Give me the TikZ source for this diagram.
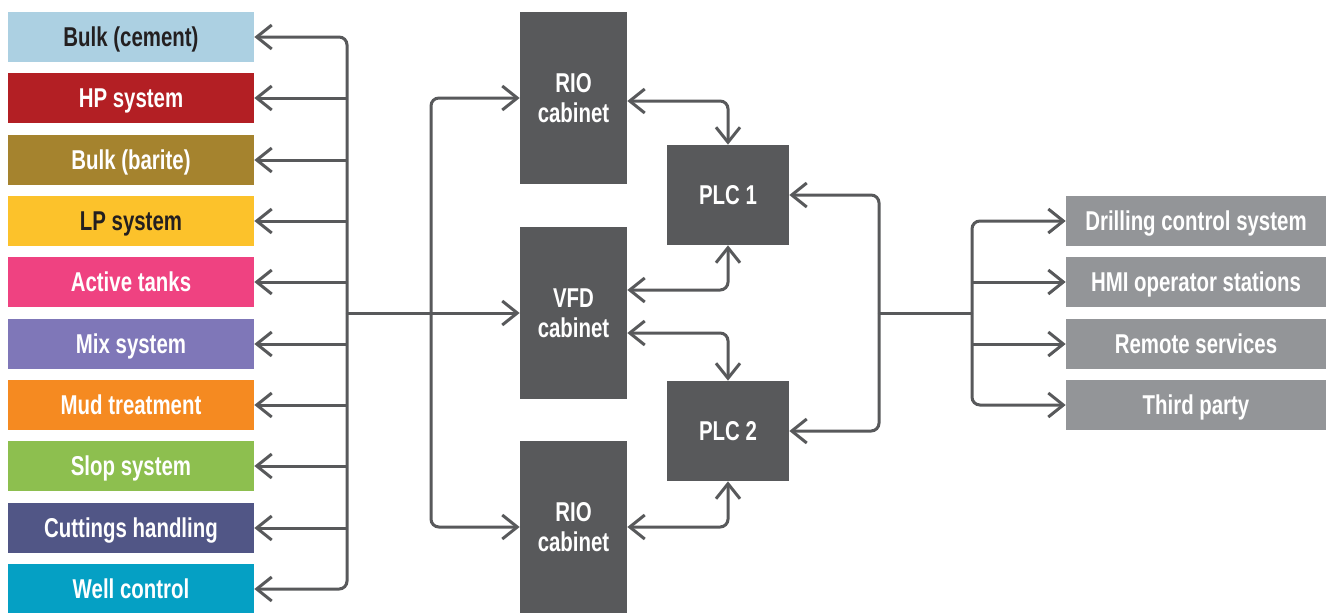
\documentclass[tikz,border=0pt]{standalone}
\usepackage{fontspec}
\setmainfont{Liberation Sans}[FakeStretch=0.75]
\usepackage{xcolor}
\usetikzlibrary{arrows.meta}

\definecolor{cement}{HTML}{ACD0E2}
\definecolor{hpred}{HTML}{B31F24}
\definecolor{barite}{HTML}{A5832E}
\definecolor{lpyel}{HTML}{FCC22B}
\definecolor{tanks}{HTML}{EF4281}
\definecolor{mixp}{HTML}{7F77B8}
\definecolor{mudor}{HTML}{F58A21}
\definecolor{slopg}{HTML}{8DBF4F}
\definecolor{cutt}{HTML}{515686}
\definecolor{wellc}{HTML}{05A0C4}
\definecolor{dark}{HTML}{58595B}
\definecolor{lgrey}{HTML}{939598}
\definecolor{txt}{HTML}{231F20}

\begin{document}
\begin{tikzpicture}[x=0.02cm, y=-0.02cm]
   \tikzstyle{sys}=[minimum width=4.92cm, minimum height=1cm, inner sep=0pt, text height=15pt, text depth=4pt, text=white, font=\fontsize{15.5}{17}\selectfont\bfseries]
   \tikzstyle{cab}=[fill=dark, minimum width=2.14cm, minimum height=3.44cm, inner sep=0pt, align=center, text=white, font=\fontsize{15.5}{17}\selectfont\bfseries]
   \tikzstyle{plc}=[fill=dark, minimum width=2.44cm, minimum height=2cm, inner sep=0pt, text height=15pt, text depth=4pt, text=white, font=\fontsize{15.5}{17}\selectfont\bfseries]
   \tikzstyle{ext}=[fill=lgrey, minimum width=5.2cm, minimum height=1cm, inner sep=0pt, text height=15pt, text depth=4pt, text=white, font=\fontsize{15.5}{17}\selectfont\bfseries]
   \tikzstyle{wire}=[draw=dark, line width=0.06cm]
   \tikzstyle{arr}=[wire, -{Straight Barb[length=0.3cm, width=0.48cm, line width=0.06cm]}]
   \tikzstyle{dbl}=[wire, {Straight Barb[length=0.3cm, width=0.48cm, line width=0.06cm]}-{Straight Barb[length=0.3cm, width=0.48cm, line width=0.06cm]}]
   \useasboundingbox (0,0) rectangle (1327,612);
   %% subsystems
\node (cement) at (131,37) [sys, fill=cement, text=txt] {Bulk (cement)};
\node (hp) at (131,98) [sys, fill=hpred] {HP system};
\node (barite) at (131,160) [sys, fill=barite] {Bulk (barite)};
\node (lp) at (131,221) [sys, fill=lpyel, text=txt] {LP system};
\node (tanks) at (131,282) [sys, fill=tanks] {Active tanks};
\node (mix) at (131,344) [sys, fill=mixp] {Mix system};
\node (mud) at (131,405) [sys, fill=mudor] {Mud treatment};
\node (slop) at (131,466) [sys, fill=slopg] {Slop system};
\node (cuttings) at (131,528) [sys, fill=cutt] {Cuttings handling};
\node (well) at (131,589) [sys, fill=wellc] {Well control};
   %% cabinets and plcs
\node (rio1) at (573.5,98) [cab] {RIO\\cabinet};
\node (vfd) at (573.5,313) [cab] {VFD\\cabinet};
\node (rio2) at (573.5,527) [cab] {RIO\\cabinet};
\node (plc1) at (728,195) [plc] {PLC 1};
\node (plc2) at (728,431) [plc] {PLC 2};
   %% outside
\node (dcs) at (1196,221) [ext] {Drilling control system};
\node (hmi) at (1196,282) [ext] {HMI operator stations};
\node (remote) at (1196,344) [ext] {Remote services};
\node (third) at (1196,405) [ext] {Third party};
\coordinate (busL) at (347,313);
\coordinate (busM) at (431,313);
\coordinate (busR) at (879,313);
\coordinate (busS) at (972,313);
   %% left bus
 \draw[arr, rounded corners=4.5pt] (busL) |- (cement.east);
 \draw[arr, rounded corners=4.5pt] (busL) |- (well.east);
 \draw[arr] (busL |- hp.east) -- (hp.east);
 \draw[arr] (busL |- barite.east) -- (barite.east);
 \draw[arr] (busL |- lp.east) -- (lp.east);
 \draw[arr] (busL |- tanks.east) -- (tanks.east);
 \draw[arr] (busL |- mix.east) -- (mix.east);
 \draw[arr] (busL |- mud.east) -- (mud.east);
 \draw[arr] (busL |- slop.east) -- (slop.east);
 \draw[arr] (busL |- cuttings.east) -- (cuttings.east);
 \draw[arr] (busL) -- (vfd.west);
 \draw[arr, rounded corners=4.5pt] (busM) |- (rio1.west);
 \draw[arr, rounded corners=4.5pt] (busM) |- (rio2.west);
   %% cabinets to plcs
 \draw[dbl, rounded corners=4.5pt] ([yshift=-0.06cm]rio1.east) -| (plc1.north);
 \draw[dbl, rounded corners=4.5pt] ([yshift=0.46cm]vfd.east) -| (plc1.south);
 \draw[dbl, rounded corners=4.5pt] ([yshift=-0.4cm]vfd.east) -| (plc2.north);
 \draw[dbl, rounded corners=4.5pt] (rio2.east) -| (plc2.south);
   %% right bus
 \draw[arr, rounded corners=4.5pt] (busR) |- (plc1.east);
 \draw[arr, rounded corners=4.5pt] (busR) |- (plc2.east);
 \draw[wire] (busR) -- (busS);
 \draw[arr, rounded corners=4.5pt] (busS) |- (dcs.west);
 \draw[arr, rounded corners=4.5pt] (busS) |- (third.west);
 \draw[arr] (busS |- hmi.west) -- (hmi.west);
 \draw[arr] (busS |- remote.west) -- (remote.west);
    \end{tikzpicture}
\end{document}
